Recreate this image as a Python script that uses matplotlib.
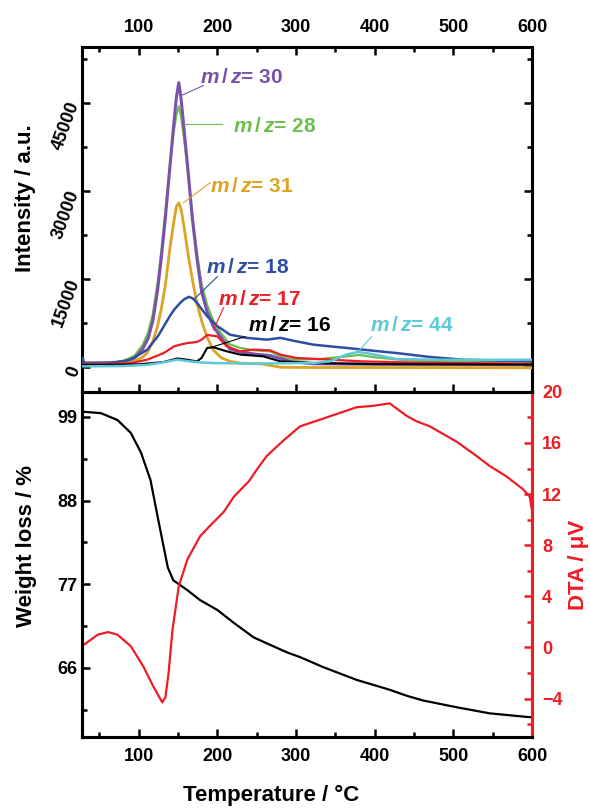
import matplotlib
matplotlib.use('Agg')
import matplotlib.pyplot as plt
from matplotlib.ticker import MultipleLocator

plt.rcParams['font.family'] = ['Liberation Sans', 'DejaVu Sans']
plt.rcParams['font.weight'] = 'bold'
plt.rcParams['axes.labelweight'] = 'bold'
plt.rcParams['mathtext.fontset'] = 'custom'
plt.rcParams['mathtext.it'] = 'Liberation Sans:italic:bold'
plt.rcParams['mathtext.rm'] = 'Liberation Sans:bold'

# ---- MS data (temperature / intensity) ----
t30 = [28, 60, 80, 95, 105, 112, 118, 124, 129, 134, 139, 144, 148, 151, 154, 158, 163, 168, 174, 180, 187, 195, 204, 216, 229, 250, 267, 292, 320, 400, 600]
i30 = [600, 650, 750, 1500, 3000, 4800, 7800, 13000, 18800, 25500, 33000, 40500, 46000, 48400, 45500, 40000, 33000, 25500, 18500, 12800, 9300, 6800, 5100, 3000, 2500, 2100, 1900, 900, 500, 400, 300]

t28 = [28, 60, 80, 95, 105, 112, 118, 124, 129, 134, 139, 144, 148, 151, 154, 158, 163, 168, 174, 180, 187, 195, 204, 216, 229, 246, 267, 285, 301, 330, 364, 380, 400, 430, 470, 600]
i28 = [700, 750, 900, 1900, 3700, 5800, 9000, 14300, 20000, 26500, 33500, 39500, 43000, 44400, 42500, 38500, 32500, 26000, 19500, 14000, 10500, 7800, 5800, 3800, 3200, 2800, 2600, 1500, 1200, 1300, 1750, 2000, 1600, 1200, 900, 900]

t31 = [28, 60, 90, 105, 111, 118, 124, 129, 134, 140, 145, 148, 151, 154, 158, 163, 168, 174, 180, 187, 195, 205, 216, 229, 258, 280, 320, 400, 600]
i31 = [400, 400, 680, 1600, 2400, 4300, 6900, 10000, 14000, 20500, 25000, 27300, 27900, 26800, 23500, 19000, 15000, 10800, 7800, 5000, 2800, 1500, 900, 600, 450, -100, -150, -150, -200]

t18 = [28, 29, 31, 60, 90, 111, 125, 132, 140, 145, 153, 158, 164, 169, 174, 180, 187, 200, 216, 238, 263, 280, 301, 322, 343, 364, 385, 406, 427, 470, 511, 600]
i18 = [500, 1500, 500, 500, 1190, 2900, 5300, 6900, 8700, 9700, 10900, 11500, 11900, 11600, 10900, 9800, 8600, 6900, 5450, 4900, 4600, 4900, 4300, 3750, 3460, 3190, 2900, 2600, 2330, 1650, 1190, 900]

t17 = [28, 60, 90, 111, 132, 145, 153, 162, 174, 180, 187, 200, 212, 229, 246, 267, 280, 301, 343, 385, 450, 520, 600]
i17 = [400, 400, 600, 1190, 2330, 3460, 3750, 4030, 4200, 4600, 5400, 5170, 3460, 2610, 2900, 2780, 2050, 1480, 1190, 900, 700, 600, 500]

t16 = [28, 60, 100, 132, 149, 161, 174, 180, 187, 195, 212, 229, 258, 280, 322, 400, 500, 600]
i16 = [300, 300, 400, 800, 1400, 1190, 900, 1500, 3190, 3300, 2610, 2050, 1760, 900, 620, 450, 400, 350]

t44 = [28, 80, 110, 130, 149, 165, 180, 195, 237, 300, 322, 343, 364, 378, 390, 400, 427, 470, 520, 600]
i44 = [50, 100, 300, 700, 1190, 900, 700, 620, 510, 600, 620, 900, 2050, 2500, 2300, 2050, 1310, 1190, 1150, 1190]

ms_ticks = [0, 15000, 30000, 45000]
ms_ticklabels = ['0', '15000', '30000', '45000']

# ---- TG / DTA data ----
t_tg = [28, 52, 73, 90, 103, 115, 125, 137, 144, 162, 178, 200, 221, 246, 263, 289, 305, 334, 377, 419, 441, 461, 504, 546, 596, 600]
w_tg = [99.7, 99.5, 98.6, 96.9, 94.3, 90.7, 85.4, 79.2, 77.5, 76.2, 74.9, 73.6, 71.9, 70.0, 69.2, 68.0, 67.4, 66.1, 64.4, 63.1, 62.3, 61.7, 60.8, 60.0, 59.5, 59.5]

t_dta = [28, 48, 61, 73, 90, 106, 119, 130, 134, 138, 143, 151, 162, 178, 195, 208, 221, 240, 251, 263, 284, 305, 334, 377, 397, 419, 441, 453, 470, 504, 529, 546, 567, 588, 597, 599, 600]
d_dta = [0.1, 1.0, 1.2, 1.0, 0.1, -1.5, -3.1, -4.3, -3.9, -2.0, 1.4, 4.8, 6.9, 8.7, 9.8, 10.6, 11.8, 13.0, 14.0, 15.0, 16.2, 17.3, 17.9, 18.8, 18.9, 19.1, 18.1, 17.7, 17.3, 16.1, 15.0, 14.2, 13.4, 12.4, 11.8, 11.0, 10.6]

c30 = '#7B52AB'
c28 = '#6CC04A'
c31 = '#DBA425'
c18 = '#2E4EA3'
c17 = '#EE1C24'
c16 = 'k'
c44 = '#5CC9DA'
red = '#EE1C24'

fig = plt.figure(figsize=(5.9, 8.08), dpi=100, facecolor='white')
ax1 = fig.add_axes([0.139, 0.515, 0.763, 0.427])
ax2 = fig.add_axes([0.139, 0.088, 0.763, 0.427])
ax3 = ax2.twinx()

ax1.plot(t28, i28, c=c28, lw=1.6, zorder=3)
ax1.plot(t30, i30, c=c30, lw=2.2, zorder=4)
ax1.plot(t31, i31, c=c31, lw=2.0, zorder=5)
ax1.plot(t18, i18, c=c18, lw=1.8, zorder=6)
ax1.plot(t17, i17, c=c17, lw=1.6, zorder=6)
ax1.plot(t16, i16, c=c16, lw=1.5, zorder=7)
ax1.plot(t44, i44, c=c44, lw=1.8, zorder=8)

# labels with leader lines
labels = [('30', c30, (154, 46200), (182, 47900), (178, 49300)),
          ('28', c28, (157, 41400), (206, 41400), (220, 40900)),
          ('31', c31, (157, 27950), (191, 31360), (191, 30700)),
          ('18', c18, (170, 11420), (200, 15340), (185, 16900)),
          ('17', c17, (195, 6300), (208, 10060), (201, 11400)),
          ('16', c16, (191, 3240), (235, 5110), (239, 7000)),
          ('44', c44, (381, 2900), (396, 5110), (394, 7000))]
for num, col, p0, p1, pt in labels:
    ax1.plot([p0[0], p1[0]], [p0[1], p1[1]], c=col, lw=0.8, zorder=9)
    ax1.text(pt[0], pt[1], r'$\mathit{m\,/\,z}$= ' + num, color=col, fontsize=15,
             fontweight='bold', ha='left', va='center', zorder=10)

ax1.set_xlim(28, 600)
ax1.set_ylim(-4300, 54500)
ax1.xaxis.set_major_locator(MultipleLocator(100))
ax1.xaxis.set_minor_locator(MultipleLocator(50))
ax1.set_yticks(ms_ticks, ms_ticklabels, rotation=70, rotation_mode='anchor',
               ha='right', va='center')
ax1.yaxis.set_minor_locator(MultipleLocator(7500))
ax1.tick_params(which='both', direction='in', top=True, bottom=True, left=True, right=True,
                labeltop=True, labelbottom=False, width=1.8)
ax1.tick_params(which='major', length=6)
ax1.tick_params(which='minor', length=3.5)
ax1.tick_params(axis='x', labelsize=13, pad=8)
ax1.tick_params(axis='y', labelsize=13, pad=5)
ax1.set_ylabel('Intensity / a.u.', fontsize=16)
ax1.yaxis.set_label_coords(-0.102, 0.562)

ax2.plot(t_tg, w_tg, c='k', lw=1.6)
ax3.plot(t_dta, d_dta, c=red, lw=1.6)

ax2.set_xlim(28, 600)
ax2.set_ylim(56.9, 102.3)
ax2.set_yticks([66, 77, 88, 99])
ax2.yaxis.set_minor_locator(MultipleLocator(5.5))
ax2.xaxis.set_major_locator(MultipleLocator(100))
ax2.xaxis.set_minor_locator(MultipleLocator(50))
ax2.tick_params(which='both', direction='in', top=False, right=False, width=1.8, labelsize=13)
ax2.tick_params(which='major', length=6)
ax2.tick_params(which='minor', length=3.5)
ax2.tick_params(axis='x', pad=8)
ax2.set_ylabel('Weight loss / %', fontsize=16)
ax2.yaxis.set_label_coords(-0.1, 0.554)
ax2.set_xlabel('Temperature / \u00b0C', fontsize=16)
ax2.xaxis.set_label_coords(0.42, -0.139)

ax3.set_ylim(-7, 20)
ax3.yaxis.set_major_locator(MultipleLocator(4))
ax3.yaxis.set_minor_locator(MultipleLocator(2))
ax3.tick_params(which='both', direction='in', colors=red, width=1.8, labelsize=13, pad=7)
ax3.tick_params(which='major', length=6)
ax3.tick_params(which='minor', length=3.5)
ax3.set_ylabel('DTA / \u03bcV', fontsize=16, color=red)
ax3.yaxis.set_label_coords(1.08, 0.5)

for a in (ax1, ax2, ax3):
    for s in a.spines.values():
        s.set_linewidth(2.2)
ax3.spines['right'].set_color(red)

plt.savefig('out.png', dpi=100, facecolor='white')
